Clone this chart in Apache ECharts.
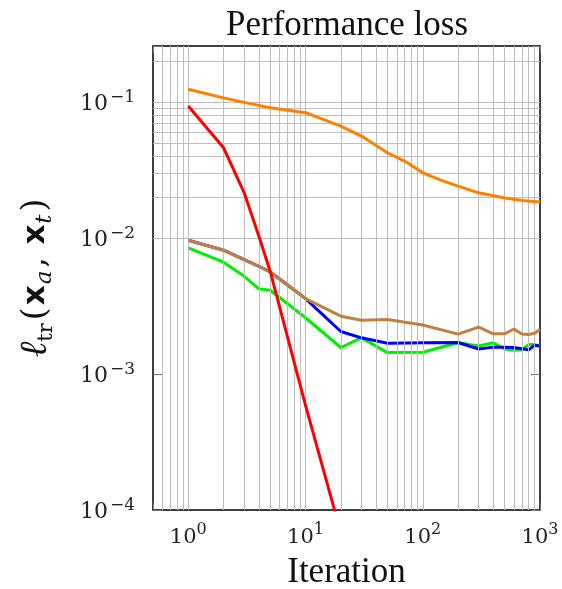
<!DOCTYPE html>
<html>
<head>
<meta charset="utf-8">
<title>Performance loss</title>
<script src="https://cdn.jsdelivr.net/npm/echarts@6/dist/echarts.min.js"></script>
<style>
    html, body { margin: 0; padding: 0; background: #fff; }
    #lossChart { width: 562px; height: 589px; }
</style>
</head>
<body>
<div id="lossChart"></div>
<script>
// iterations / loss values
var iterOrange = [1, 2, 3, 5, 10, 20, 30, 50, 70, 100, 150, 200, 300, 500, 700, 1000];
var lossOrange = [0.125, 0.108, 0.1, 0.0914, 0.084, 0.0668, 0.0565, 0.0426, 0.037, 0.0303, 0.0263, 0.0242, 0.0216, 0.0198, 0.019, 0.0185];

var iterRed = [1, 2, 3, 4, 5, 10, 20];
var lossRed = [0.094, 0.0463, 0.0216, 0.01035, 0.0057, 0.00059, 0.000068];

var iterLong = [1, 2, 3, 4, 5, 10, 20, 30, 50, 100, 200, 300, 400, 500, 600, 700, 800, 900, 1000];
var lossBrown = [0.00966, 0.00817, 0.00696, 0.00622, 0.00565, 0.0036, 0.00267, 0.00249, 0.00252, 0.0023, 0.00197, 0.00222, 0.00198, 0.00198, 0.00215, 0.00197, 0.00196, 0.002, 0.00213];
var lossBlue = [0.00966, 0.00817, 0.00696, 0.00622, 0.00565, 0.0036, 0.00206, 0.00185, 0.00169, 0.0017, 0.00171, 0.00153, 0.00158, 0.00158, 0.00157, 0.00154, 0.00151, 0.00163, 0.00161];
var lossGreen = [0.00849, 0.00667, 0.00525, 0.00424, 0.00414, 0.0026, 0.00157, 0.00185, 0.00144, 0.00145, 0.0017, 0.00161, 0.0017, 0.00153, 0.0015, 0.00151, 0.00165, 0.00165, 0.00161];

// grid decades
var xDecades = [0.1, 1, 10, 100];
var yDecades = [0.0001, 0.001, 0.01, 0.1];
var mantissas = [1, 2, 3, 4, 5, 6, 7, 8, 9];

var xMin = 0.5, xMax = 1000, yMin = 0.0001, yMax = 0.26;

function gridValues(decades, lo, hi) {
    var out = [];
    decades.forEach(function (d) {
        mantissas.forEach(function (m) {
            var v = +(d * m).toPrecision(6);
            if (v > lo * 1.0001 && v < hi * 0.9999) out.push(v);
        });
    });
    return out;
}

function pairs(xs, ys) {
    return xs.map(function (x, i) { return [x, ys[i]]; });
}

function expOf(v) {
    var e = Math.round(Math.log10(v));
    return Math.abs(Math.log10(v) - e) < 1e-6 ? e : null;
}

var serif = 'DejaVu Serif';
var gridColor = '#bdbdbd';
var xTickRich = {
    b: {fontFamily: serif, fontSize: 21, color: '#222', lineHeight: 26, verticalAlign: 'bottom'},
    s: {fontFamily: serif, fontSize: 16, color: '#222', lineHeight: 12, verticalAlign: 'top'}
};
var yTickRich = {
    b: {fontFamily: serif, fontSize: 22, color: '#222', lineHeight: 26, verticalAlign: 'bottom'},
    s: {fontFamily: serif, fontSize: 17, color: '#222', lineHeight: 12, verticalAlign: 'top', padding: [0, 0, 0, 2]}
};

var lossChart = echarts.init(document.getElementById('lossChart'), null, {renderer: 'canvas'});

function lineSeries(name, data, color, z) {
    return {
        name: name,
        type: 'line',
        data: data,
        showSymbol: false,
        symbol: 'none',
        clip: true,
        z: z,
        lineStyle: {color: color, width: 3, join: 'round'},
        animation: false
    };
}

var lossOption = {
    backgroundColor: '#fff',
    animation: false,
    title: {
        text: 'Performance loss',
        left: 342,
        top: 3,
        textAlign: 'center',
        textStyle: {fontFamily: 'Liberation Serif', fontSize: 35, fontWeight: 'normal', color: '#111'}
    },
    grid: {left: 153, right: 22, top: 46, bottom: 79, containLabel: false, outerBoundsMode: 'none'},
    xAxis: [{
        type: 'log',
        logBase: 10,
        min: xMin,
        max: xMax,
        name: 'Iteration',
        nameLocation: 'middle',
        nameGap: 45,
        nameTextStyle: {fontFamily: 'Liberation Serif', fontSize: 35, color: '#111'},
        axisLine: {show: true, onZero: false, lineStyle: {color: '#000', width: 1.5}},
        axisTick: {show: true, inside: true, length: 7, lineStyle: {color: '#777'}},
        splitLine: {show: false},
        axisLabel: {
            margin: 12,
            showMinLabel: true,
            showMaxLabel: true,
            formatter: function (v) {
                var e = expOf(v);
                if (e === null) return '';
                return '{b|10}{s|' + e + '}';
            },
            rich: xTickRich
        }
    }, {
        type: 'log',
        logBase: 10,
        min: xMin,
        max: xMax,
        position: 'top',
        axisLine: {show: true, onZero: false, lineStyle: {color: '#000', width: 1.5}},
        axisTick: {show: true, inside: true, length: 7, lineStyle: {color: '#777'}},
        axisLabel: {show: false},
        splitLine: {show: false}
    }],
    yAxis: [{
        type: 'log',
        logBase: 10,
        min: yMin,
        max: yMax,
        name: '{l|ℓ}{sub|tr}{p|(}{x|x}{si|a}{p|, }{x|x}{si|t}{p|)}',
        nameLocation: 'middle',
        nameRotate: 90,
        nameGap: 96,
        nameTextStyle: {
            rich: {
                l: {fontFamily: serif, fontStyle: 'italic', fontSize: 38, color: '#111', lineHeight: 42, verticalAlign: 'middle'},
                sub: {fontFamily: serif, fontSize: 21, color: '#111', lineHeight: 18, verticalAlign: 'bottom', padding: [0, 3, 0, 0]},
                p: {fontFamily: serif, fontSize: 33, color: '#111', lineHeight: 42, verticalAlign: 'middle'},
                x: {fontFamily: 'DejaVu Sans', fontWeight: 'bold', fontSize: 31, color: '#111', lineHeight: 42, verticalAlign: 'middle', padding: [0, 1, 0, 2]},
                si: {fontFamily: serif, fontStyle: 'italic', fontSize: 23, color: '#111', lineHeight: 18, verticalAlign: 'bottom', padding: [0, 3, 0, 0]}
            }
        },
        axisLine: {show: true, onZero: false, lineStyle: {color: '#000', width: 1.5}},
        axisTick: {show: true, inside: true, length: 9, lineStyle: {color: '#777'}},
        splitLine: {show: false},
        axisLabel: {
            margin: 18,
            formatter: function (v) {
                var e = expOf(v);
                if (e === null) return '';
                return '{b|10}{s|' + (e < 0 ? '\u2212' + (-e) : e) + '}';
            },
            rich: yTickRich
        }
    }, {
        type: 'log',
        logBase: 10,
        min: yMin,
        max: yMax,
        position: 'right',
        axisLine: {show: true, onZero: false, lineStyle: {color: '#000', width: 1.5}},
        axisTick: {show: true, inside: true, length: 9, lineStyle: {color: '#777'}},
        axisLabel: {show: false},
        splitLine: {show: false}
    }],
    series: [
        {
            type: 'line',
            data: [],
            z: 1,
            silent: true,
            markLine: {
                silent: true,
                symbol: 'none',
                label: {show: false},
                animation: false,
                lineStyle: {color: gridColor, width: 1, type: 'solid'},
                data: gridValues(xDecades, xMin, xMax).map(function (v) { return {xAxis: v}; })
                    .concat(gridValues(yDecades, yMin, yMax).map(function (v) { return {yAxis: v}; }))
            }
        },
        lineSeries('green', pairs(iterLong, lossGreen), '#00ee00', 3),
        lineSeries('blue', pairs(iterLong, lossBlue), '#0000ff', 4),
        lineSeries('brown', pairs(iterLong, lossBrown), '#bf8040', 5),
        lineSeries('orange', pairs(iterOrange, lossOrange), '#ff8000', 6),
        lineSeries('red', pairs(iterRed, lossRed), '#ff0000', 7)
    ]
};

lossChart.setOption(lossOption);
</script>
</body>
</html>
